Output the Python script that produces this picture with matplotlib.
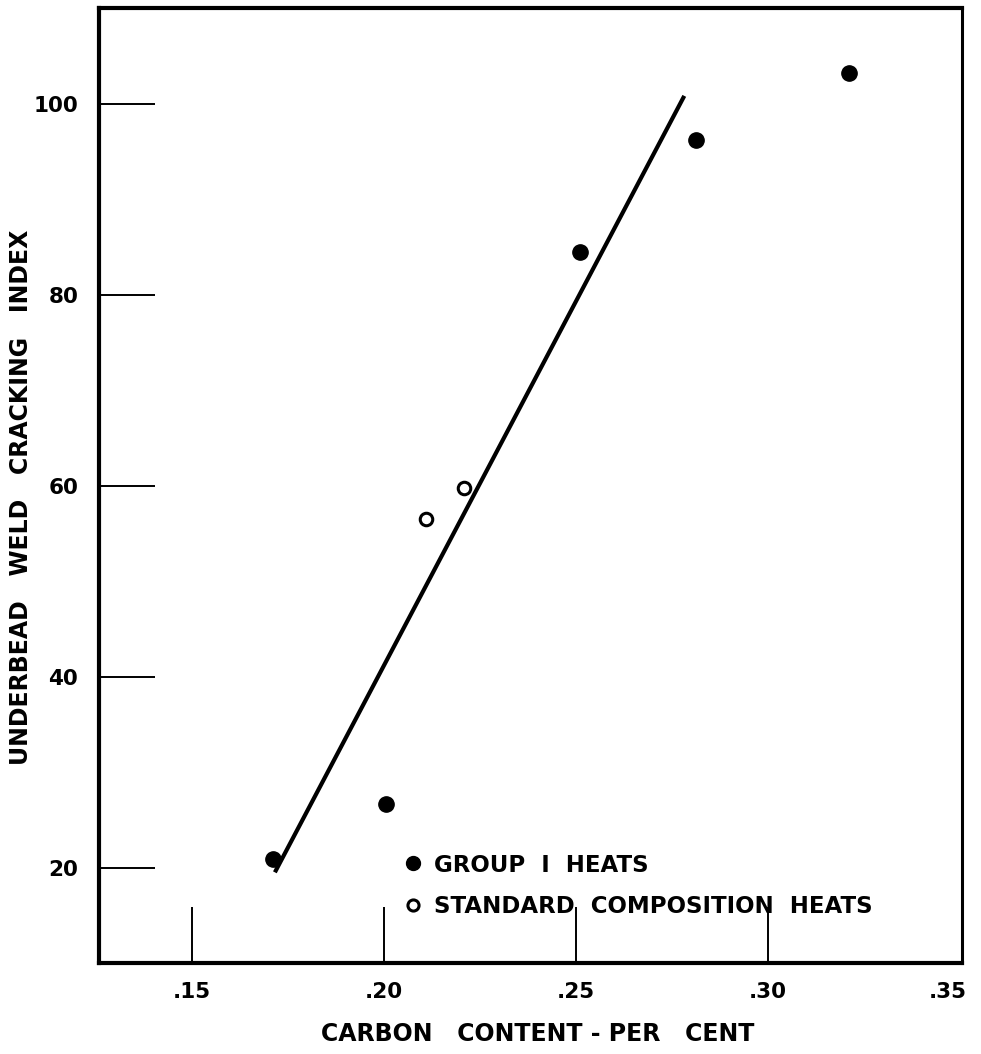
import matplotlib.pyplot as plt
from matplotlib.lines import Line2D
from matplotlib.transforms import ScaledTranslation

plt.rcParams['font.family'] = 'DejaVu Sans'
plt.rcParams['font.weight'] = 'bold'

# Underbead cracking vs. carbon content
group1_carbon = [0.171, 0.2006, 0.251, 0.2812, 0.321]
group1_index = [20.9, 26.7, 84.5, 96.2, 103.2]

standard_carbon = [0.2109, 0.2208]
standard_index = [56.5, 59.7]

# fitted line, drawn by hand through the points
fit_carbon = [0.1716, 0.2782]
fit_index = [19.5, 100.8]

x_ticks = [0.15, 0.20, 0.25, 0.30, 0.35]
x_labels = ['.15', '.20', '.25', '.30', '.35']
y_ticks = [20, 40, 60, 80, 100]

fig = plt.figure(figsize=(9.81, 10.54), dpi=100)
ax = fig.add_axes([0.1009, 0.0863, 0.8797, 0.9061])

ax.plot(fit_carbon, fit_index, color='black', lw=3.0, solid_capstyle='butt')
ax.plot(group1_carbon, group1_index, 'o', color='black', ms=11, ls='none')
ax.plot(standard_carbon, standard_index, 'o', mfc='white', mec='black',
        mew=2.2, ms=9, ls='none')

ax.set_xlim(0.1258, 0.3505)
ax.set_ylim(10, 110)

ax.set_xticks(x_ticks)
ax.set_xticklabels(x_labels)
ax.set_yticks(y_ticks)

ax.tick_params(axis='both', direction='in', length=40, width=1.4,
               labelsize=15.5, color='black')
ax.tick_params(axis='x', pad=14)
ax.tick_params(axis='y', pad=15)

# .35 sits on the frame: no tick mark, label nudged inward
ax.xaxis.get_major_ticks()[-1].tick1line.set_visible(False)
lab = ax.get_xticklabels()[-1]
lab.set_transform(lab.get_transform() +
                  ScaledTranslation(-0.12, 0, fig.dpi_scale_trans))

for side in ['left', 'bottom', 'top']:
    ax.spines[side].set_linewidth(3.0)
ax.spines['right'].set_linewidth(2.2)

ax.set_xlabel('CARBON   CONTENT - PER   CENT', fontsize=17, fontweight='bold')
ax.xaxis.set_label_coords(0.508, -0.062)
ax.set_ylabel('UNDERBEAD   WELD   CRACKING   INDEX', fontsize=17,
              fontweight='bold')
ax.yaxis.set_label_coords(-0.076, 0.488)

handles = [
    Line2D([], [], marker='o', color='black', ls='none', ms=10),
    Line2D([], [], marker='o', mfc='white', mec='black', mew=2.2, ls='none', ms=8),
]
ax.legend(handles, ['GROUP  I  HEATS', 'STANDARD  COMPOSITION  HEATS'],
          loc='center left', bbox_to_anchor=(0.34, 0.081), frameon=False,
          fontsize=16.5, handlelength=0.8, handletextpad=0.5,
          labelspacing=0.8, borderpad=0)

fig.savefig('out.png', dpi=100)
